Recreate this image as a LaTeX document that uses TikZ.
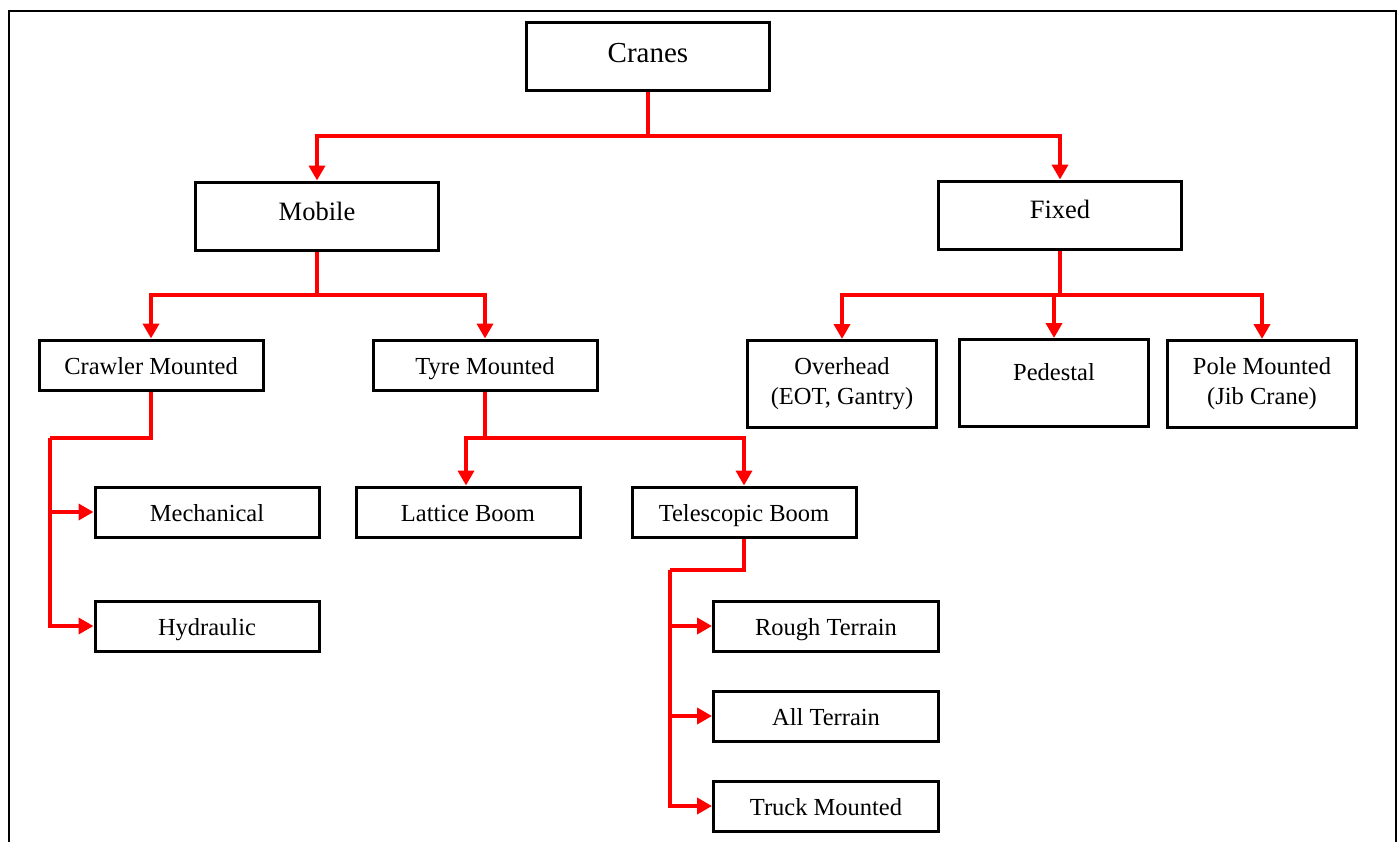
\documentclass[tikz,border=0pt]{standalone}
\usepackage{fontspec}
\setmainfont{Liberation Serif}
\usetikzlibrary{arrows.meta}
\definecolor{linkred}{RGB}{255,0,0}
\begin{document}
\begin{tikzpicture}[x=1pt,y=-1pt,
  box/.style={draw=black,line width=3pt,inner sep=0pt,align=center,
    font=\fontsize{24.5}{30}\selectfont},
  bigbox/.style={box,minimum width=243pt,minimum height=68pt,text depth=0pt},
  midbox/.style={box,minimum width=224pt,minimum height=50pt,text height=18pt,text depth=0pt},
  tallbox/.style={box,minimum width=189pt,minimum height=87pt},
  conn/.style={draw=linkred,line width=4.2pt,line join=miter},
  arr/.style={conn,-{Triangle[length=15pt,width=16pt]}},
  frame/.style={draw=black,line width=2.8pt}]
\useasboundingbox (0,0) rectangle (1400,841);
\draw[frame] (9,845) -- (9,11) -- (1396,11) -- (1396,845);

\node[bigbox,text height=13pt,font=\fontsize{29}{34}\selectfont] (cranes) at (648,56) {Cranes};
\node[bigbox,text height=8pt,font=\fontsize{26.5}{31}\selectfont] (mobile) at (317,216) {Mobile};
\node[bigbox,text height=6pt,font=\fontsize{26.5}{31}\selectfont] (fixed) at (1060,215) {Fixed};

\node[midbox] (crawler) at (151,365) {Crawler Mounted};
\node[midbox] (tyre) at (485,365) {Tyre Mounted};

\node[tallbox] (over) at (842,384) {Overhead\\(EOT, Gantry)};
\node[tallbox] (ped) at (1054,383) {\raisebox{3pt}[0pt][0pt]{Pedestal}};
\node[tallbox] (pole) at (1262,384) {Pole Mounted\\(Jib Crane)};

\node[midbox] (mech) at (207,512) {Mechanical};
\node[midbox] (hyd) at (207,626) {Hydraulic};
\node[midbox] (lattice) at (468,512) {Lattice Boom};
\node[midbox] (tele) at (744,512) {Telescopic Boom};

\node[midbox,minimum width=225pt] (rough) at (826,626) {Rough Terrain};
\node[midbox,minimum width=225pt] (allt) at (826,716) {All Terrain};
\node[midbox,minimum width=225pt] (truck) at (826,806) {Truck Mounted};

% Cranes -> Mobile, Fixed
\coordinate (cj) at (648,136);
\draw[conn] (cranes.south) -- (cj);
\draw[arr] (cj) -| (mobile.north);
\draw[arr] (cj) -| (fixed.north);

% Mobile -> Crawler, Tyre
\coordinate (mj) at (317,295);
\draw[conn] (mobile.south) -- (mj);
\draw[arr] (mj) -| (crawler.north);
\draw[arr] (mj) -| (tyre.north);

% Fixed -> Overhead, Pedestal, Pole
\coordinate (fj) at (1060,295);
\draw[conn] (fixed.south) -- (fj);
\draw[arr] (fj) -| (over.north);
\draw[arr] (fj) -| (ped.north);
\draw[arr] (fj) -| (pole.north);

% Crawler -> Mechanical, Hydraulic
\coordinate (cwj) at (50,438);
\draw[conn] (crawler.south) |- (cwj);
\draw[arr] (cwj) |- (mech.west);
\draw[arr] (cwj) |- (hyd.west);

% Tyre -> Lattice, Telescopic
\coordinate (tj) at (485,438);
\draw[conn] (tyre.south) -- (tj);
\draw[arr] (tj) -| ([xshift=-2pt]lattice.north);
\draw[arr] (tj) -| (tele.north);

% Telescopic -> Rough, All, Truck
\coordinate (tsj) at (670,570);
\draw[conn] (tele.south) |- (tsj);
\draw[arr] (tsj) |- (rough.west);
\draw[arr] (tsj) |- (allt.west);
\draw[arr] (tsj) |- (truck.west);
\end{tikzpicture}
\end{document}
